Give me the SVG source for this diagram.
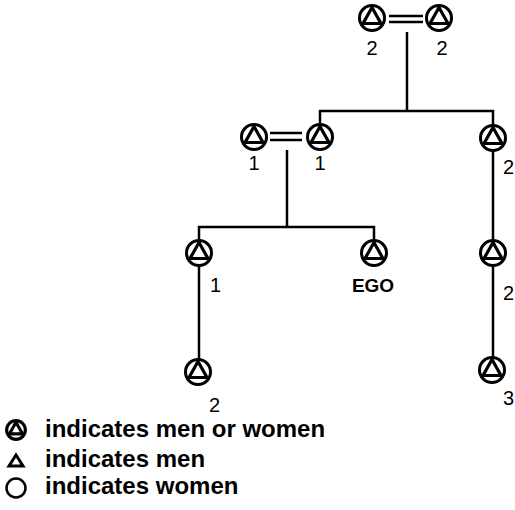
<svg xmlns="http://www.w3.org/2000/svg" width="515" height="510" viewBox="0 0 515 510">
<style>
.ln{stroke:#000;stroke-width:2.5;fill:none}
.lbl{font-family:"Liberation Sans",Arial,sans-serif;font-size:20px;fill:#000}
.ego{font-family:"Liberation Sans",Arial,sans-serif;font-size:19px;font-weight:bold;fill:#000}
.leg{font-family:"Liberation Sans",Arial,sans-serif;font-size:24px;font-weight:bold;fill:#000}
</style>
<defs>
<g id="mw">
<circle r="12.5" fill="#fff" stroke="#000" stroke-width="3"/>
<polygon points="0,-10.5 9,5.5 -9,5.5" fill="none" stroke="#000" stroke-width="3.2" stroke-linejoin="round"/>
</g>
</defs>
<rect width="515" height="510" fill="#fff"/>
<g id="connectors" class="ln">
<line x1="389" y1="16" x2="423" y2="16"/>
<line x1="389" y1="22" x2="423" y2="22"/>
<line x1="407" y1="32" x2="407" y2="111"/>
<line x1="319" y1="111" x2="494" y2="111"/>
<line x1="320" y1="110" x2="320" y2="125"/>
<line x1="493" y1="110" x2="493" y2="126"/>
<line x1="270" y1="133" x2="302" y2="133"/>
<line x1="270" y1="140" x2="302" y2="140"/>
<line x1="287" y1="150" x2="287" y2="227"/>
<line x1="198" y1="227" x2="375" y2="227"/>
<line x1="199" y1="226" x2="199" y2="241"/>
<line x1="374" y1="226" x2="374" y2="241"/>
<line x1="493" y1="150" x2="493" y2="241"/>
<line x1="199" y1="265" x2="199" y2="360"/>
<line x1="493" y1="265" x2="493" y2="358"/>
</g>
<g id="n-top-left"><use href="#mw" x="372" y="18"/><text class="lbl" x="372" y="55" text-anchor="middle">2</text></g>
<g id="n-top-right"><use href="#mw" x="439" y="18"/><text class="lbl" x="442" y="55" text-anchor="middle">2</text></g>
<g id="n-l2-a"><use href="#mw" x="254" y="137"/><text class="lbl" x="254" y="170" text-anchor="middle">1</text></g>
<g id="n-l2-b"><use href="#mw" x="320" y="137"/><text class="lbl" x="320" y="170" text-anchor="middle">1</text></g>
<g id="n-l2-c"><use href="#mw" x="493" y="138"/><text class="lbl" x="503" y="174">2</text></g>
<g id="n-l3-a"><use href="#mw" x="199" y="253"/><text class="lbl" x="210" y="292">1</text></g>
<g id="n-ego"><use href="#mw" x="374" y="253"/><text class="ego" x="373" y="292" text-anchor="middle">EGO</text></g>
<g id="n-l3-c"><use href="#mw" x="493" y="253"/><text class="lbl" x="503" y="300">2</text></g>
<g id="n-l4-a"><use href="#mw" x="198" y="372"/><text class="lbl" x="209" y="412">2</text></g>
<g id="n-l4-c"><use href="#mw" x="492" y="370"/><text class="lbl" x="503" y="405">3</text></g>
<g id="legend">
<g transform="translate(16,430) scale(0.78)">
<circle r="12" fill="#fff" stroke="#000" stroke-width="4"/>
<polygon points="0,-10 8.5,5 -8.5,5" fill="none" stroke="#000" stroke-width="4" stroke-linejoin="round"/>
</g>
<polygon points="16,455 23,466 9,466" fill="none" stroke="#000" stroke-width="3" stroke-linejoin="miter"/>
<circle cx="16" cy="488" r="9.5" fill="none" stroke="#000" stroke-width="2.5"/>
<text class="leg" x="45" y="437">indicates men or women</text>
<text class="leg" x="45" y="467">indicates men</text>
<text class="leg" x="45" y="494">indicates women</text>
</g>
</svg>
